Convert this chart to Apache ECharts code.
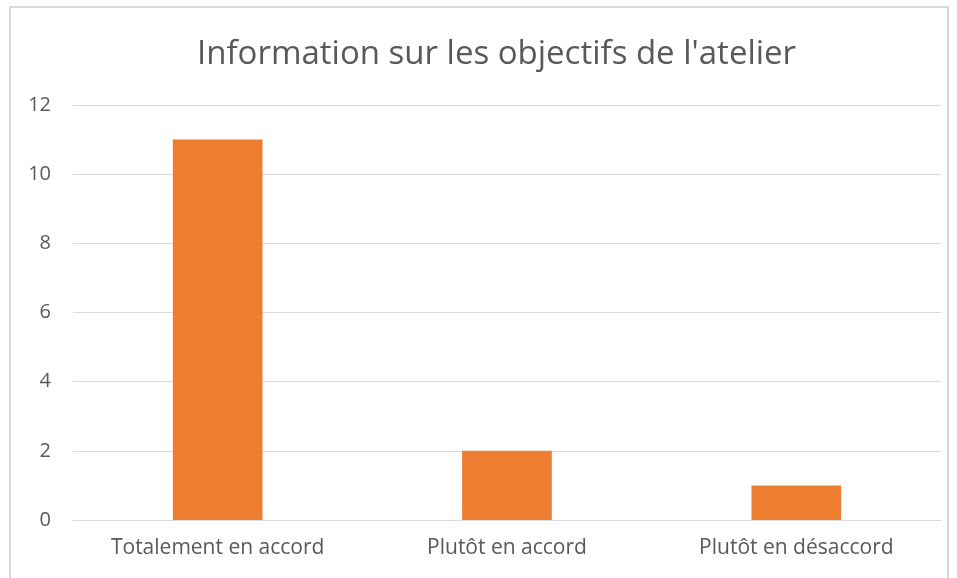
<!DOCTYPE html>
<html><head><meta charset="utf-8">
<script src="https://cdn.jsdelivr.net/npm/echarts@6/dist/echarts.min.js"></script>
<style>
html,body{margin:0;padding:0;background:#fff;}
#frame{position:absolute;left:9px;top:6px;width:940px;height:600px;border:2px solid #d9d9d9;box-sizing:border-box;}
#c{position:absolute;left:0;top:0;width:957px;height:578px;}
</style></head>
<body>
<div id="frame"></div>
<div id="c"></div>
<script>
const categories = ['Totalement en accord', 'Plutôt en accord', 'Plutôt en désaccord'];
const values = [11, 2, 1];
const yTicks = [0, 2, 4, 6, 8, 10, 12];
const titleText = "Information sur les objectifs de l'atelier";

const chart = echarts.init(document.getElementById('c'), null, {renderer: 'canvas'});
chart.setOption({
  animation: false,
  backgroundColor: 'transparent',
  title: {
    text: titleText, left: 192, top: 33,
    textStyle: {fontFamily: 'Open Sans', fontSize: 33, fontWeight: 'normal', color: '#595959'}
  },
  grid: {left: 73, right: 16, top: 105, bottom: 58, containLabel: false},
  xAxis: {
    type: 'category', data: categories,
    axisLine: {show: true, lineStyle: {color: '#d9d9d9', width: 1}},
    axisTick: {show: false},
    axisLabel: {color: '#595959', fontFamily: 'Open Sans', fontSize: 21, margin: 18}
  },
  yAxis: {
    type: 'value', min: yTicks[0], max: yTicks[yTicks.length - 1], interval: 2,
    axisLine: {show: false}, axisTick: {show: false},
    splitLine: {lineStyle: {color: '#d9d9d9', width: 1}},
    axisLabel: {color: '#595959', fontFamily: 'Open Sans', fontSize: 20, margin: 22}
  },
  series: [{
    type: 'bar', data: values, barWidth: '31%',
    itemStyle: {color: '#ED7D31'}
  }]
});
</script>
</body></html>
